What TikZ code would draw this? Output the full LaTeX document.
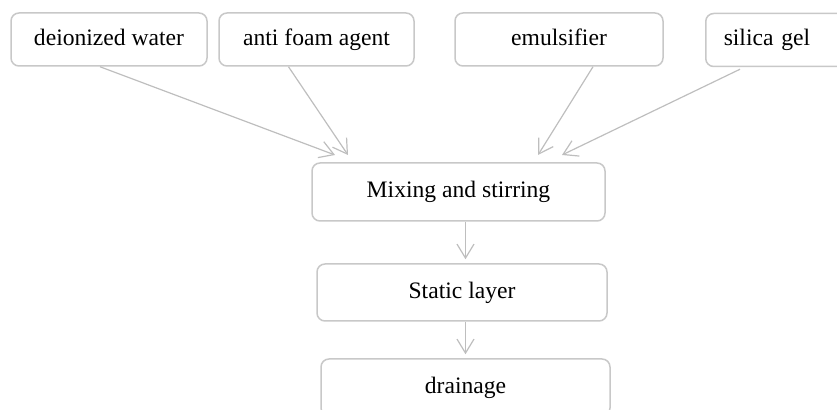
\documentclass[tikz,border=0pt]{standalone}
\usepackage{fontspec}
\setmainfont{Liberation Serif}
\usetikzlibrary{arrows.meta}
\definecolor{boxgray}{RGB}{200,200,200}
\definecolor{arrowgray}{RGB}{190,190,190}

\begin{document}
\begin{tikzpicture}[x=0.5pt, y=-0.5pt,
    stepbox/.style={draw=boxgray, line width=0.75pt, rounded corners=4pt,
      minimum height=26.5pt, inner sep=0pt, text height=8.2pt, text depth=2.6pt,
      font=\fontsize{11.8}{14}\selectfont},
    flow/.style={draw=arrowgray, line width=0.6pt,
      -{Straight Barb[length=7pt, width=8.5pt, line width=0.6pt]}}]
  %\draw[style=help lines] (0, 0) grid[step=50] (837, 410);
	\useasboundingbox (0, 0) rectangle (837, 410);
	\clip (0, 0) rectangle (837, 410);
	%Raw materials
	\node [stepbox, minimum width=98pt] (water) at (109, 39.5) {deionized water};
	\node [stepbox, minimum width=97.5pt] (foam) at (316.5, 39.5) {anti foam agent};
	\node [stepbox, minimum width=104pt] (emul) at (559, 39.5) {emulsifier};
	\node [stepbox, anchor=west, text width=82pt, inner xsep=9pt, align=left] (silica) at (705, 40) {silica gel};
	%Process steps
	\node [stepbox, minimum width=146.5pt, minimum height=29pt] (mix) at (458.5, 192) {Mixing and stirring};
	\node [stepbox, minimum width=145pt, minimum height=28.5pt] (static) at (462, 292.5) {Static layer};
	\node [stepbox, minimum width=144.5pt, minimum height=28.5pt] (drain) at (465.5, 387.5) {drainage};
	%Arrow ends above the mixing box
	\coordinate (in1) at (335, 155);
	\coordinate (in2) at (348, 155);
	\coordinate (in3) at (538, 155);
	\coordinate (in4) at (562, 155);
	%Arrows into the mixing box
	\draw [flow] ([xshift=-4.5pt]water.south) -- (in1);
	\draw [flow] ([xshift=-14pt]foam.south) -- (in2);
	\draw [flow] ([xshift=17pt]emul.south) -- (in3);
	\draw [flow] ([xshift=17.5pt, yshift=-1pt]silica.south west) -- (in4);
	%Mixing -> Static -> drainage
	\draw [flow, shorten >=2pt] (mix.south -| drain.north) -- (static.north -| drain.north);
	\draw [flow, shorten >=2pt] (static.south -| drain.north) -- (drain.north);
\end{tikzpicture}
\end{document}
